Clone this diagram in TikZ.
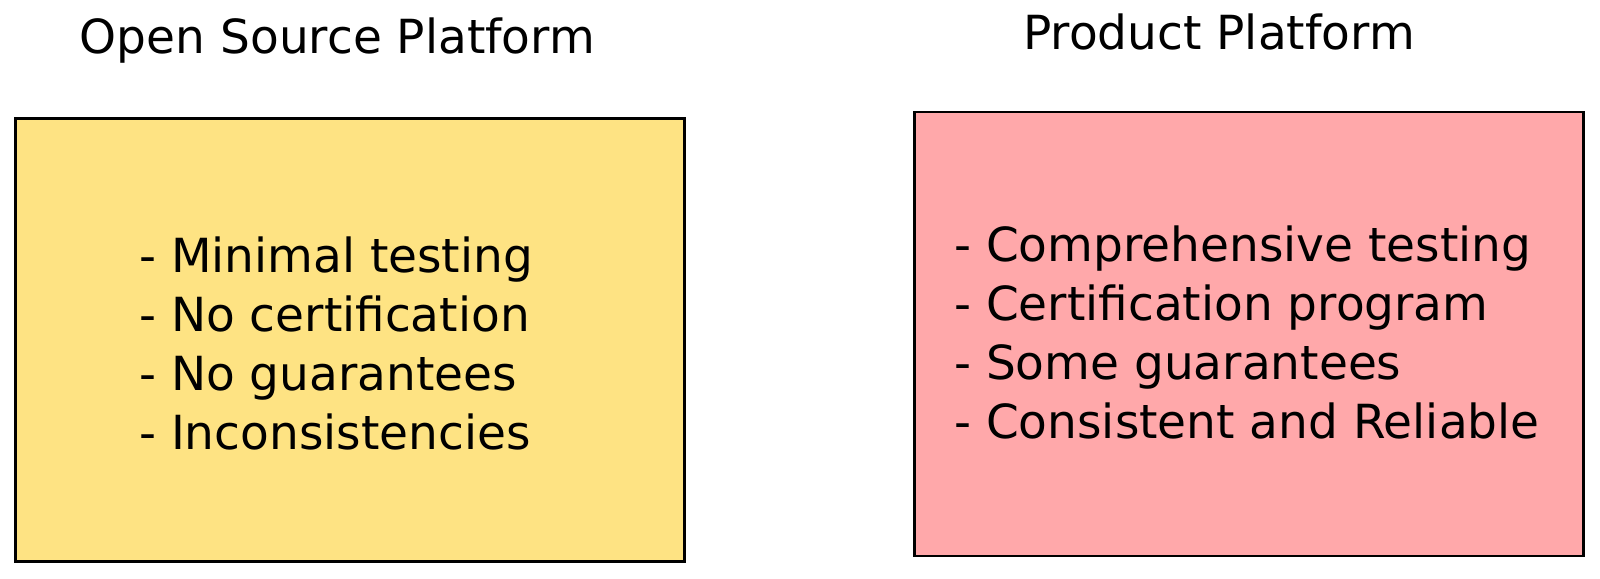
\documentclass[tikz,border=0pt]{standalone}
\usepackage{fontspec}
\setmainfont{DejaVu Sans}
\definecolor{osyellow}{HTML}{FEE383}
\definecolor{prodpink}{HTML}{FFA8AA}
\tikzset{
  platbox/.style={draw=black, line width=2.5pt, inner sep=0pt},
  plattitle/.style={anchor=base, inner sep=0pt, font=\fontsize{47}{56}\selectfont},
  platlist/.style={anchor=west, align=left, inner sep=0pt,
    font=\fontsize{47}{58.8}\selectfont}
}
\begin{document}
\begin{tikzpicture}[x=1pt,y=-1pt]
    \useasboundingbox (0,0) rectangle (1600,578);

    % open source side
    \node[plattitle] (ostitle) at (337.5,53.3) {Open Source Platform};
    \node[platbox, fill=osyellow, minimum width=669pt, minimum height=443pt]
      (osbox) at (350,340) {};
    \node[platlist] (oslist) at (139,343.5)
      {- Minimal testing\\- No certification\\- No guarantees\\- Inconsistencies};

    % product side
    \node[plattitle] (prodtitle) at (1219,50) {Product Platform};
    \node[platbox, fill=prodpink, minimum width=669pt, minimum height=444pt]
      (prodbox) at (1249,334) {};
    \node[platlist] (prodlist) at (954,332.5)
      {- Comprehensive testing\\- Certification program\\- Some guarantees\\- Consistent and Reliable};
\end{tikzpicture}
\end{document}
